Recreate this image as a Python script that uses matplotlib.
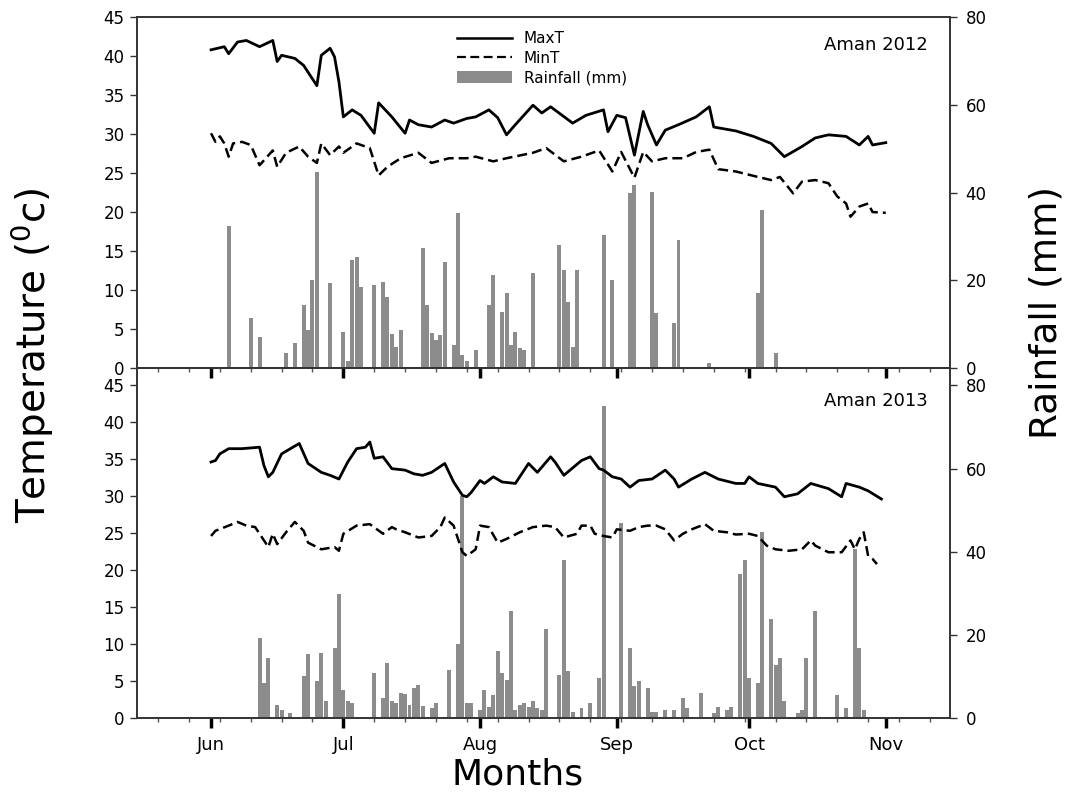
import matplotlib
matplotlib.use('Agg')
import matplotlib.pyplot as plt
from matplotlib.lines import Line2D
from matplotlib.patches import Patch

plt.rcParams['font.family'] = ['DejaVu Sans']

# ---------------- data (day 0 = 1 June) ----------------
month_days = [0, 30, 61, 92, 122, 153]
month_labels = ['Jun', 'Jul', 'Aug', 'Sep', 'Oct', 'Nov']
temp_ticks = [0, 5, 10, 15, 20, 25, 30, 35, 40, 45]
rain_ticks = [0, 20, 40, 60, 80]

# Aman 2012
maxt12_day = [0, 3, 4, 6, 8, 11, 14, 15, 16, 19, 21, 24, 25, 27, 28, 29, 30, 32, 34, 37,
              38, 41, 44, 45, 47, 50, 53, 55, 58, 60, 63, 65, 67, 69, 73, 75, 77, 82, 85, 89,
              90, 92, 94, 96, 98, 99, 101, 103, 106, 110, 113, 114, 119, 123, 127, 130, 134,
              137, 140, 144, 147, 149, 150, 153]
maxt12 = [40.8, 41.2, 40.3, 41.8, 42.0, 41.2, 42.0, 39.3, 40.1, 39.7, 38.8, 36.2, 40.1, 41.0,
          39.9, 36.7, 32.2, 33.1, 32.4, 30.1, 34.0, 32.2, 30.1, 31.8, 31.2, 30.9, 31.8, 31.4,
          32.0, 32.2, 33.1, 32.1, 29.9, 31.2, 33.7, 32.7, 33.5, 31.4, 32.4, 33.1, 30.3, 32.4,
          32.1, 27.3, 32.9, 31.2, 28.6, 30.5, 31.2, 32.2, 33.5, 30.9, 30.4, 29.7, 28.8, 27.1,
          28.4, 29.5, 29.9, 29.7, 28.6, 29.7, 28.6, 28.9]

mint12_day = [0, 1, 2, 3, 4, 5, 7, 9, 11, 14, 15, 17, 20, 22, 24, 25, 27, 29, 30, 33, 36, 38,
              40, 43, 47, 50, 54, 58, 60, 64, 67, 73, 76, 80, 84, 88, 91, 93, 96, 98, 100, 103,
              107, 110, 113, 115, 119, 124, 127, 129, 132, 134, 137, 140, 142, 144, 145, 147,
              149, 150, 153]
mint12 = [30.1, 29.0, 29.7, 28.8, 27.1, 28.8, 29.0, 28.6, 26.0, 27.9, 25.8, 27.6, 28.4, 27.1,
          26.3, 28.8, 27.3, 28.4, 27.6, 28.8, 28.2, 24.7, 25.8, 26.9, 27.6, 26.3, 26.9, 26.9,
          27.1, 26.5, 26.9, 27.6, 28.2, 26.5, 27.1, 27.9, 25.2, 27.7, 24.4, 27.7, 26.5, 26.9,
          26.9, 27.7, 28.0, 25.5, 25.2, 24.5, 24.1, 24.5, 22.4, 23.9, 24.1, 23.7, 22.0, 21.1,
          19.4, 20.7, 21.1, 20.0, 19.9]

rain12_day = [4, 9, 11, 17, 19, 21, 22, 23, 24, 27, 30, 31, 32, 33, 34, 37, 39, 40, 41, 42, 43,
              48, 49, 50, 51, 52, 53, 55, 56, 57, 58, 60, 63, 64, 66, 67, 68, 69, 70, 71, 73,
              79, 80, 81, 82, 83, 89, 91, 95, 96, 100, 101, 105, 106, 113, 124, 125, 128]
rain12 = [32.3, 11.4, 7.1, 3.4, 5.7, 14.3, 8.6, 20.0, 44.7, 19.4, 8.3, 1.5, 24.6, 25.4, 18.5,
          18.9, 19.7, 16.3, 7.7, 4.9, 8.6, 27.3, 14.3, 8.0, 6.4, 7.5, 24.2, 5.2, 35.3, 3.0, 1.5,
          4.1, 14.3, 21.2, 12.8, 17.1, 5.2, 8.3, 4.5, 4.1, 21.6, 28.0, 22.3, 15.1, 4.9, 22.3,
          30.3, 20.0, 40.0, 41.7, 40.2, 12.5, 10.3, 29.2, 1.1, 17.0, 36.0, 3.4]

# Aman 2013
maxt13_day = [0, 1, 2, 4, 7, 11, 12, 13, 14, 16, 18, 20, 22, 25, 27, 29, 31, 33, 35, 36, 37,
              39, 41, 44, 46, 48, 50, 53, 55, 57, 58, 59, 61, 62, 64, 66, 69, 72, 74, 77, 78,
              80, 84, 86, 88, 89, 91, 93, 95, 97, 100, 103, 105, 106, 109, 112, 115, 119, 121,
              122, 124, 128, 130, 133, 136, 140, 143, 144, 147, 149, 152]
maxt13 = [34.6, 34.8, 35.7, 36.4, 36.4, 36.6, 34.1, 32.6, 33.2, 35.7, 36.4, 37.1, 34.4, 33.2,
          32.8, 32.3, 34.6, 36.4, 36.6, 37.3, 35.1, 35.3, 33.7, 33.5, 33.0, 32.8, 33.2, 34.4,
          31.9, 30.1, 29.9, 30.5, 32.1, 31.7, 32.6, 31.9, 31.7, 34.4, 33.2, 35.3, 34.6, 32.8,
          34.8, 35.3, 33.7, 33.5, 32.6, 32.3, 31.2, 32.1, 32.3, 33.5, 32.3, 31.2, 32.3, 33.2,
          32.3, 31.7, 31.7, 32.6, 31.7, 31.2, 29.9, 30.3, 31.7, 31.0, 29.9, 31.7, 31.2, 30.7,
          29.6]

mint13_day = [0, 1, 4, 6, 8, 10, 12, 13, 14, 15, 17, 19, 21, 22, 25, 28, 29, 30, 33, 36, 39,
              41, 42, 44, 47, 50, 52, 53, 55, 57, 58, 60, 61, 63, 65, 67, 70, 73, 76, 78, 80,
              83, 84, 86, 87, 89, 91, 92, 95, 97, 99, 101, 103, 105, 107, 109, 112, 114, 117,
              119, 122, 124, 126, 128, 131, 134, 136, 137, 140, 143, 145, 146, 147, 148, 149,
              150, 151]
mint13 = [24.6, 25.3, 26.0, 26.5, 26.0, 25.8, 24.0, 23.1, 24.9, 23.5, 25.1, 26.5, 25.3, 23.7,
          22.8, 23.1, 22.6, 24.9, 26.0, 26.2, 24.9, 25.8, 25.5, 25.1, 24.4, 24.6, 25.8, 27.1,
          26.0, 22.4, 21.9, 22.8, 26.0, 25.8, 23.7, 24.2, 25.1, 25.8, 26.0, 25.8, 24.4, 24.9,
          26.0, 26.0, 24.9, 24.6, 24.4, 25.5, 25.3, 25.8, 26.0, 26.0, 25.5, 24.0, 24.9, 25.5,
          26.2, 25.3, 25.1, 24.8, 24.9, 24.6, 23.3, 22.8, 22.6, 22.8, 24.0, 23.3, 22.4, 22.4,
          24.0, 22.8, 24.2, 25.1, 21.9, 21.5, 20.8]

rain13_day = [11, 12, 13, 15, 16, 18, 21, 22, 24, 25, 26, 28, 29, 30, 31, 32, 37, 39, 40, 41,
              42, 43, 44, 45, 46, 47, 48, 50, 51, 54, 56, 57, 58, 59, 61, 62, 63, 64, 65, 66,
              67, 68, 69, 70, 71, 72, 73, 74, 75, 76, 79, 80, 81, 82, 84, 86, 88, 89, 93, 95,
              96, 97, 99, 100, 101, 103, 105, 107, 108, 111, 114, 115, 117, 118, 120, 121, 122,
              124, 125, 127, 128, 129, 130, 133, 134, 135, 137, 142, 144, 146, 147, 148]
rain13 = [19.3, 8.4, 14.5, 3.2, 1.9, 1.1, 10.0, 15.3, 8.8, 15.7, 4.0, 16.9, 29.8, 6.8, 4.0, 3.6,
          10.8, 4.8, 13.3, 4.0, 3.6, 6.0, 5.7, 3.2, 7.2, 8.0, 2.8, 2.4, 3.6, 11.6, 17.7, 53.3,
          3.6, 3.6, 1.9, 6.8, 2.7, 5.6, 16.1, 10.8, 9.2, 25.8, 1.9, 3.2, 3.6, 2.7, 4.0, 2.4, 1.9,
          21.3, 10.4, 37.9, 11.2, 1.5, 2.4, 3.6, 9.6, 75.1, 46.8, 16.9, 7.6, 8.8, 7.2, 1.5, 1.5,
          1.9, 1.9, 4.8, 2.4, 6.0, 1.1, 2.7, 1.9, 2.7, 34.7, 37.9, 9.6, 8.4, 44.8, 23.8, 12.8,
          14.5, 4.0, 1.1, 1.9, 14.5, 25.8, 5.6, 2.4, 40.7, 16.9, 1.9]

minor_days = list(range(-12, 168, 7))

# ---------------- figure ----------------
fig = plt.figure(figsize=(10.7, 7.94), dpi=100)
L, W = 0.128, 0.760
ax_top = fig.add_axes([L, 0.5365, W, 0.442])
ax_bot = fig.add_axes([L, 0.0957, W, 0.4408])

BAR_C = '#8c8c8c'
SPINE_C = '#333333'


def draw_panel(ax, mx_d, mx, mn_d, mn, r_d, r, tlim, rlim, title, bottom):
    axr = ax.twinx()
    axr.set_zorder(ax.get_zorder() - 1)
    ax.patch.set_visible(False)
    axr.bar(r_d, r, width=0.9, color=BAR_C, linewidth=0)
    ax.plot(mx_d, mx, color='black', lw=2.0, solid_joinstyle='round')
    ax.plot(mn_d, mn, color='black', lw=1.8, dashes=(4, 2))
    ax.set_xlim(-16.8, 167.6)
    ax.set_ylim(0, tlim)
    axr.set_ylim(0, rlim)
    ax.set_yticks(temp_ticks)
    axr.set_yticks(rain_ticks)
    ax.set_xticks(month_days)
    ax.set_xticks(minor_days, minor=True)
    if bottom:
        ax.set_xticklabels(month_labels, fontsize=13)
    else:
        ax.set_xticklabels([])
    ax.tick_params(axis='x', which='major', direction='out', length=7, width=2.5,
                   color='black', pad=6)
    ax.tick_params(axis='x', which='minor', direction='out', length=3, width=1,
                   color='#555555')
    ax.tick_params(axis='y', direction='out', length=5, width=1, labelsize=12,
                   color=SPINE_C, pad=4)
    axr.tick_params(axis='y', direction='out', length=5, width=1, labelsize=12,
                    color=SPINE_C, pad=6)
    for a in (ax, axr):
        for s in a.spines.values():
            s.set_color(SPINE_C)
            s.set_linewidth(1.2)
    ax.text(0.973, 0.92 if not bottom else 0.905, title, transform=ax.transAxes,
            ha='right', va='center', fontsize=13)
    return axr


draw_panel(ax_top, maxt12_day, maxt12, mint12_day, mint12, rain12_day, rain12,
           45, 80, 'Aman 2012', False)
draw_panel(ax_bot, maxt13_day, maxt13, mint13_day, mint13, rain13_day, rain13,
           47.3, 84.2, 'Aman 2013', True)

handles = [Line2D([], [], color='black', lw=1.8),
           Line2D([], [], color='black', lw=1.6, dashes=(4, 2)),
           Patch(facecolor=BAR_C, edgecolor='none')]
ax_top.legend(handles, ['MaxT', 'MinT', 'Rainfall (mm)'], loc='upper left',
              bbox_to_anchor=(0.393, 0.96), frameon=False, fontsize=11,
              handlelength=3.6, handleheight=0.8, labelspacing=0.3, borderpad=0,
              borderaxespad=0, handletextpad=0.8)

fig.text(0.030, 0.552, 'Temperature ($\\mathregular{^0}$c)', rotation=90,
         ha='center', va='center', fontsize=28)
fig.text(0.978, 0.607, 'Rainfall (mm)', rotation=90, ha='center', va='center',
         fontsize=27)
fig.text(0.484, 0.024, 'Months', ha='center', va='center', fontsize=26)

fig.savefig('out.png', dpi=100)
